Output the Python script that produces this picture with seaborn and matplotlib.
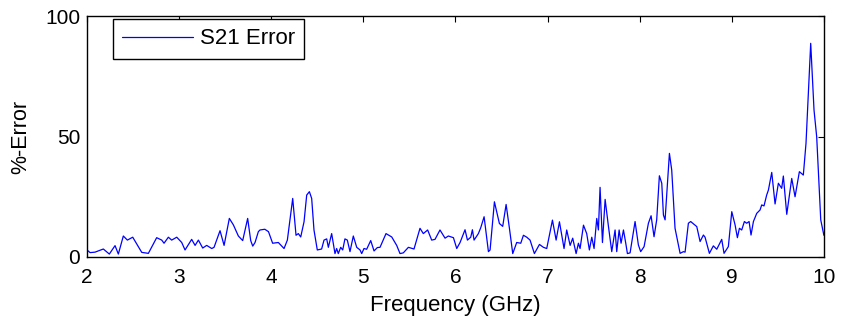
import numpy as np
import pandas as pd
import seaborn as sns
import matplotlib
matplotlib.use("Agg")
import matplotlib.pyplot as plt

# data
freq_ghz = [
    2.0, 2.033, 2.087, 2.177, 2.242, 2.304, 2.34, 2.394, 2.438, 2.496,
    2.594, 2.666, 2.756, 2.811, 2.836, 2.883, 2.919, 2.974, 3.028, 3.064,
    3.136, 3.173, 3.209, 3.256, 3.299, 3.354, 3.379, 3.444, 3.488, 3.545,
    3.589, 3.643, 3.69, 3.744, 3.777, 3.799, 3.824, 3.86,
    3.878, 3.93, 3.97, 4.015, 4.077, 4.139, 4.175, 4.233, 4.269, 4.294,
    4.32, 4.356, 4.385, 4.414, 4.439, 4.464, 4.50, 4.547, 4.573, 4.602,
    4.62, 4.656, 4.692, 4.71, 4.728, 4.754, 4.776, 4.80, 4.826, 4.855,
    4.891, 4.928, 4.964, 4.982, 5.007, 5.036, 5.08, 5.116, 5.152, 5.181,
    5.246, 5.308, 5.362, 5.398, 5.434, 5.489, 5.55, 5.615, 5.651, 5.698,
    5.742, 5.778, 5.832, 5.887,
    5.923, 5.978, 6.014, 6.05, 6.104, 6.13, 6.166, 6.184, 6.202, 6.249,
    6.275, 6.311, 6.358, 6.376, 6.423, 6.477, 6.513, 6.55, 6.586, 6.622,
    6.665, 6.709, 6.738, 6.774, 6.81, 6.857, 6.912, 6.955, 6.991, 7.053,
    7.093, 7.129, 7.179, 7.208, 7.245, 7.273, 7.31, 7.335, 7.353, 7.39,
    7.425, 7.454, 7.48, 7.505, 7.534, 7.552, 7.57, 7.596, 7.625, 7.661,
    7.697, 7.733, 7.751, 7.777, 7.798, 7.824, 7.849, 7.867, 7.896,
    7.95, 7.986, 8.011, 8.048, 8.095, 8.124, 8.156, 8.185, 8.214, 8.24,
    8.258, 8.276, 8.323, 8.348, 8.384, 8.439, 8.475, 8.493, 8.529, 8.554,
    8.62, 8.656, 8.692, 8.71, 8.757, 8.8, 8.837, 8.891, 8.916, 8.963,
    9.0, 9.036, 9.061, 9.083, 9.108, 9.137, 9.162, 9.188, 9.209, 9.235,
    9.271, 9.307, 9.325, 9.35, 9.379, 9.398, 9.434, 9.47, 9.506, 9.542,
    9.56, 9.597,
    9.651, 9.687, 9.734, 9.777, 9.806, 9.857, 9.893, 9.922, 9.966, 10.0,
]

s21_error = [
    2.9, 1.8, 2.0, 3.3, 1.2, 4.7, 1.2, 8.7, 7.0, 8.2,
    1.9, 1.5, 8.0, 7.0, 5.7, 8.2, 7.0, 8.2, 6.0, 2.9,
    7.3, 4.8, 7.0, 3.7, 4.8, 3.5, 4.0, 10.9, 4.8, 16.0,
    13.3, 8.7, 6.8, 16.0, 6.8, 4.5, 6.0, 10.5,
    11.2, 11.5, 10.5, 5.7, 6.0, 3.5, 7.0, 24.3, 9.0, 9.7,
    8.3, 14.6, 25.7, 27.1, 24.3, 11.2, 2.9, 3.3, 7.0, 7.5,
    4.0, 9.7, 1.4, 3.5, 1.4, 4.0, 2.9, 7.5, 7.0, 2.2,
    8.7, 4.0, 2.9, 1.4, 3.5, 3.2, 6.8, 2.5, 3.9, 4.0,
    9.7, 8.3, 4.8, 1.4, 1.7, 4.0, 3.3, 11.9, 9.7, 11.2,
    7.0, 7.3, 11.2, 7.8,
    8.7, 8.0, 3.5, 6.0, 11.3, 7.0, 8.2, 11.3, 7.0, 9.7,
    12.2, 16.7, 2.2, 2.9, 22.9, 13.9, 12.7, 21.8, 11.9, 1.4,
    6.0, 5.7, 9.0, 8.2, 7.0, 1.4, 5.2, 4.0, 3.5, 15.3,
    7.0, 14.6, 3.5, 11.2, 4.8, 7.8, 1.4, 5.7, 3.5, 13.2,
    9.7, 2.9, 8.2, 3.5, 16.0, 11.2, 28.9, 6.0, 23.9, 12.7,
    2.2, 11.2, 2.2, 11.2, 5.7, 11.2, 5.7, 1.4, 1.7,
    14.7, 5.0, 2.2, 4.3, 14.0, 17.1, 8.4, 15.4, 33.7, 30.6,
    17.4, 15.4, 43.0, 36.1, 11.9, 1.5, 2.2, 2.0, 14.0, 14.7,
    12.6, 6.4, 9.1, 8.2, 1.5, 4.6, 3.2, 7.3, 1.5, 4.3,
    18.8, 13.3, 8.0, 11.9, 11.2, 14.7, 14.0, 14.7, 9.1, 14.7,
    18.1, 19.5, 21.6, 21.2, 25.7, 27.8, 35.1, 22.0, 30.6, 28.5,
    33.6, 17.7,
    32.6, 25.0, 35.4, 34.0, 47.2, 88.7, 61.0, 49.9, 15.4, 9.0,
]

x_ticks = [2, 3, 4, 5, 6, 7, 8, 9, 10]
y_ticks = [0, 50, 100]

df = pd.DataFrame({"Frequency": freq_ghz, "Error": s21_error, "series": "S21 Error"})

sns.set_style("white")
plt.rcParams["font.family"] = ["Liberation Sans", "DejaVu Sans"]
plt.rcParams["text.color"] = "black"
plt.rcParams["axes.labelcolor"] = "black"
plt.rcParams["xtick.color"] = "black"
plt.rcParams["ytick.color"] = "black"

fig = plt.figure(figsize=(8.45, 3.22), dpi=100)
ax = fig.add_axes([0.103, 0.202, 0.872, 0.748])

sns.lineplot(data=df, x="Frequency", y="Error", hue="series", palette=["#0000ff"],
             estimator=None, sort=False, linewidth=0.9, ax=ax)

ax.set_xlim(2, 10)
ax.set_ylim(0, 100)
ax.set_xticks(x_ticks)
ax.set_yticks(y_ticks)
ax.tick_params(direction="in", top=True, right=True, length=4, width=0.8,
               labelsize=15, colors="black")
ax.tick_params(axis="x", pad=8)
ax.tick_params(axis="y", pad=5)
for s in ax.spines.values():
    s.set_visible(True)
    s.set_color("black")
    s.set_linewidth(1.0)

ax.set_xlabel("Frequency (GHz)", fontsize=16, labelpad=6, color="black")
ax.set_ylabel("%-Error", fontsize=15.5, labelpad=10, color="black")

leg = ax.legend(loc="upper left", bbox_to_anchor=(0.035, 0.988), borderaxespad=0,
                fontsize=16, frameon=True, fancybox=False, handlelength=3.2,
                handletextpad=0.3, borderpad=0.42, labelcolor="black")
leg.get_frame().set_edgecolor("black")
leg.get_frame().set_linewidth(1.0)
leg.get_frame().set_alpha(1)

fig.savefig("out.png", dpi=100)
